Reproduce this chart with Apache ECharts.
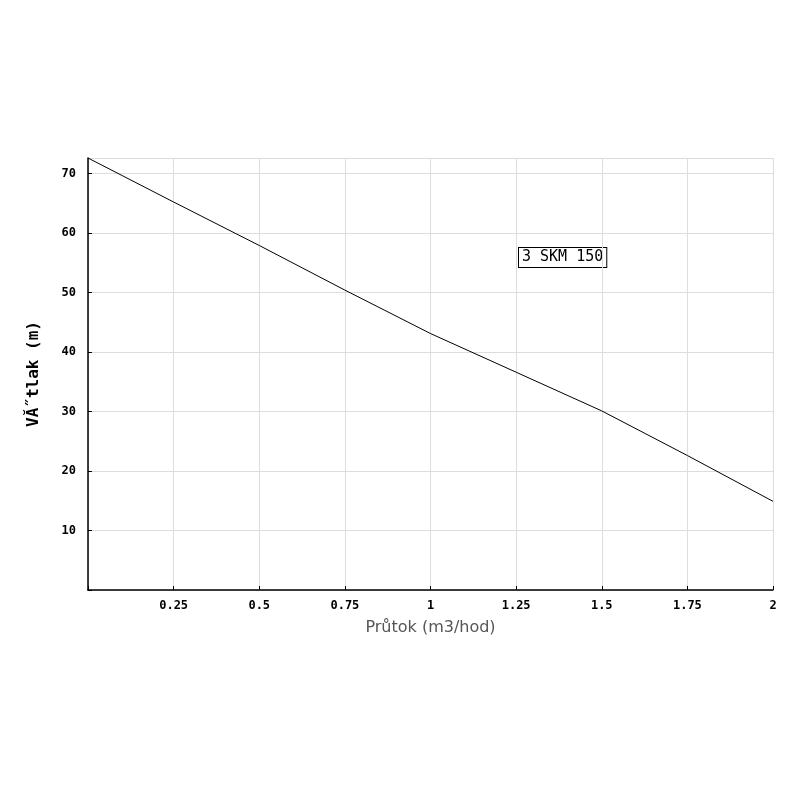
<!DOCTYPE html>
<html>
<head>
<meta charset="utf-8">
<script src="https://cdn.jsdelivr.net/npm/echarts@6/dist/echarts.min.js"></script>
<style>html,body{margin:0;background:#fff}#chart{width:800px;height:800px}</style>
</head>
<body>
<div id="chart"></div>
<script>
// data
var flow = [0, 0.25, 0.5, 0.75, 1, 1.25, 1.5, 1.75, 2];
var head = [72.6, 65.2, 57.9, 50.4, 43.1, 36.6, 30.1, 22.6, 14.9];
var seriesName = '3 SKM 150';

var myChart = echarts.init(document.getElementById('chart'));
var mono = {fontFamily: 'DejaVu Sans Mono', fontWeight: 'bold', fontSize: 12, color: '#000'};
var option = {
    animation: false,
    grid: {left: 88, right: 27, top: 158, bottom: 210},
    xAxis: {
        type: 'value', min: 0, max: 2, interval: 0.25,
        name: 'Průtok (m3/hod)', nameLocation: 'middle', nameGap: 30,
        nameTextStyle: {fontFamily: 'DejaVu Sans', fontSize: 16, color: '#555'},
        axisLine: {lineStyle: {color: '#000', width: 1.5}},
        axisTick: {show: true, inside: true, length: 4, lineStyle: {color: '#000'}},
        axisLabel: Object.assign({margin: 10, formatter: function (v) { return v === 0 ? '' : String(v); }}, mono),
        splitLine: {show: true, lineStyle: {color: '#ddd'}}
    },
    yAxis: {
        type: 'value', min: 0, max: 72.6, interval: 10,
        name: 'VĂ˝tlak (m)', nameLocation: 'middle', nameGap: 46,
        nameTextStyle: {fontFamily: 'DejaVu Sans Mono', fontWeight: 'bold', fontSize: 16, color: '#000'},
        axisLine: {show: true, lineStyle: {color: '#000', width: 1.5}},
        axisTick: {show: true, inside: true, length: 4, lineStyle: {color: '#000'}},
        axisLabel: Object.assign({margin: 12, showMaxLabel: false, formatter: function (v) { return v === 0 ? '' : String(v); }}, mono),
        splitLine: {show: true, lineStyle: {color: '#ddd'}}
    },
    series: [{
        name: seriesName,
        type: 'line',
        showSymbol: false,
        lineStyle: {color: '#000', width: 1},
        data: flow.map(function (x, i) { return [x, head[i]]; })
    }],
    graphic: [{
        type: 'text', left: 518, top: 247,
        style: {text: seriesName, font: '15px "DejaVu Sans Mono"', fill: '#000',
            backgroundColor: '#fff', borderColor: '#000', borderWidth: 1, padding: [2, 3]}
    }]
};
myChart.setOption(option);
</script>
</body>
</html>
